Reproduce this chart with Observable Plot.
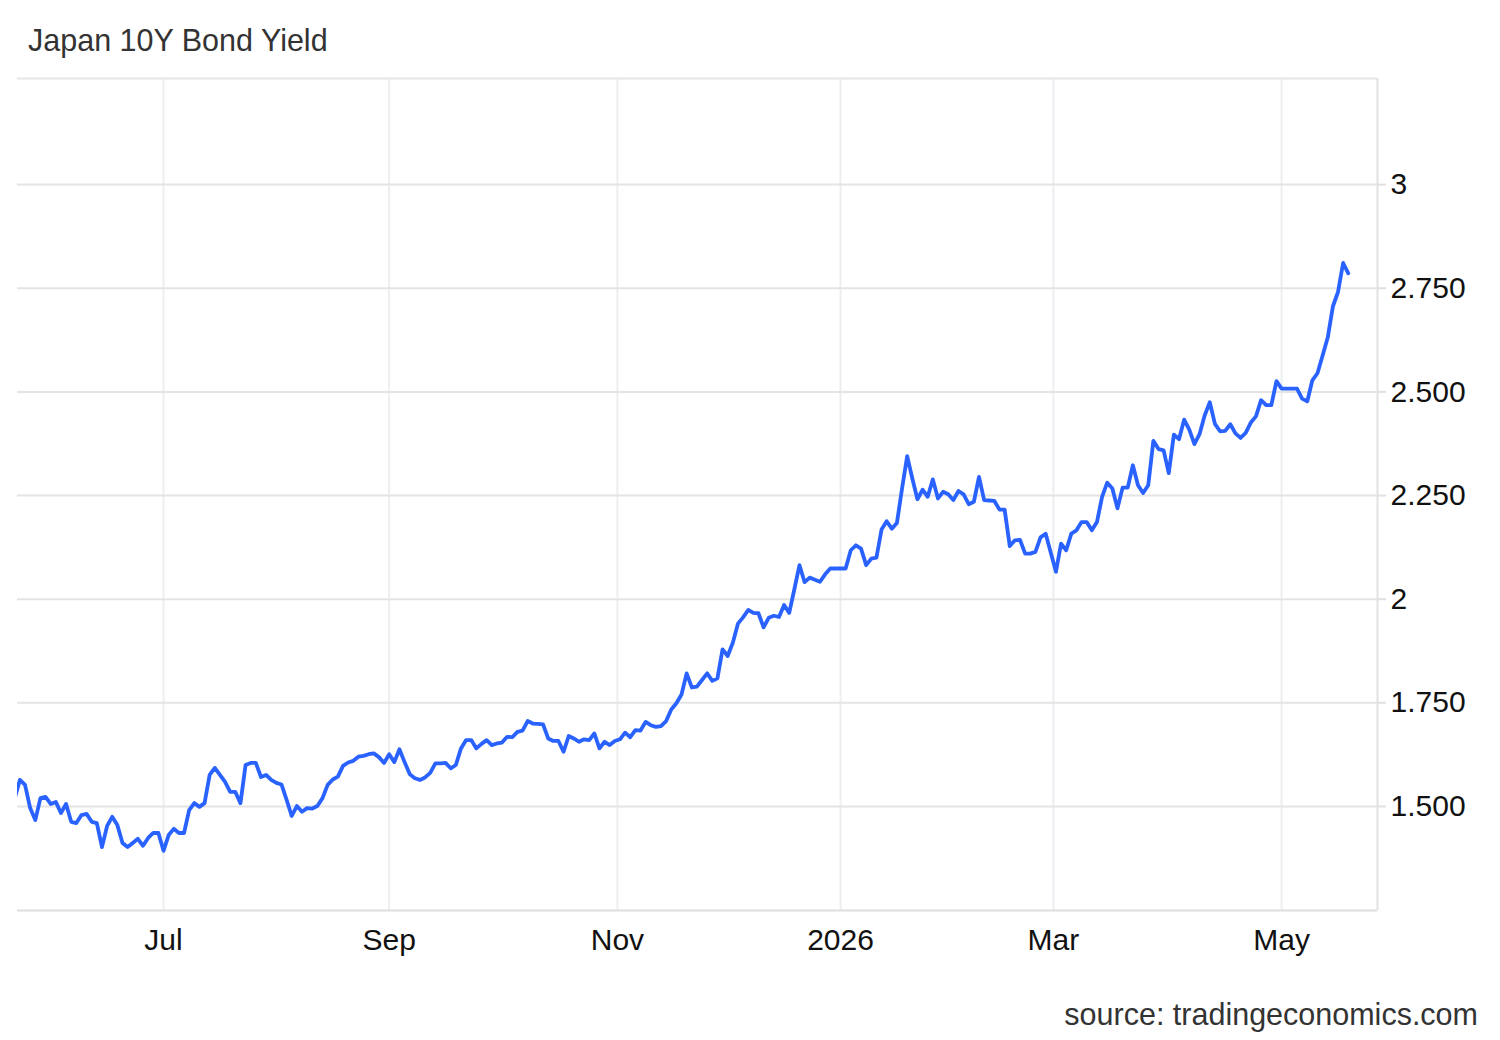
<!DOCTYPE html>
<html><head><meta charset="utf-8">
<script src="https://cdn.jsdelivr.net/npm/d3@7"></script>
<script src="https://cdn.jsdelivr.net/npm/@observablehq/plot@0.6"></script>
<style>
body{margin:0;background:#fff;font-family:"Liberation Sans",Arial,Helvetica,sans-serif;}
#title{height:70px;box-sizing:border-box;padding:24px 0 0 28px;font-size:30.5px;color:#333;line-height:32px;}
#chart{height:900px;}
#source{height:70px;box-sizing:border-box;text-align:right;padding:28px 22px 0 0;font-size:30.5px;color:#333;line-height:32px;}
</style></head><body>
<div id="title">Japan 10Y Bond Yield</div>
<div id="chart"></div>
<div id="source">source: tradingeconomics.com</div>
<script>
// Daily (weekday) closing yields, %, starting on the first trading day below
const firstTradingDay = "2025-05-21";
const yields = [
  1.520,1.564,1.552,1.496,1.467,1.520,1.523,1.506,1.511,1.484,
  1.506,1.463,1.460,1.479,1.482,1.463,1.460,1.402,1.453,1.475,
  1.455,1.412,1.402,1.412,1.422,1.405,1.424,1.436,1.436,1.393,
  1.431,1.446,1.436,1.436,1.491,1.508,1.499,1.508,1.576,1.593,
  1.576,1.559,1.535,1.535,1.508,1.600,1.605,1.605,1.571,1.576,
  1.564,1.557,1.553,1.516,1.477,1.501,1.487,1.496,1.495,1.501,
  1.520,1.552,1.565,1.572,1.598,1.606,1.610,1.620,1.622,1.626,
  1.628,1.619,1.605,1.626,1.607,1.638,1.607,1.578,1.568,1.564,
  1.570,1.581,1.604,1.604,1.605,1.592,1.600,1.640,1.660,1.660,
  1.640,1.651,1.660,1.648,1.652,1.654,1.668,1.667,1.680,1.683,
  1.706,1.700,1.699,1.698,1.664,1.658,1.658,1.632,1.670,1.664,
  1.656,1.662,1.660,1.676,1.640,1.656,1.648,1.658,1.662,1.678,
  1.667,1.684,1.683,1.704,1.696,1.692,1.694,1.706,1.734,1.749,
  1.770,1.821,1.787,1.789,1.805,1.821,1.803,1.809,1.879,1.863,
  1.895,1.941,1.956,1.974,1.967,1.966,1.932,1.955,1.960,1.957,
  1.986,1.967,2.024,2.082,2.041,2.052,2.047,2.042,2.060,2.074,
  2.074,2.074,2.074,2.118,2.130,2.122,2.082,2.098,2.100,2.168,
  2.188,2.170,2.184,2.267,2.345,2.291,2.241,2.264,2.247,2.289,
  2.243,2.259,2.253,2.239,2.261,2.253,2.229,2.235,2.295,2.239,
  2.238,2.237,2.216,2.216,2.128,2.142,2.143,2.110,2.110,2.114,
  2.149,2.158,2.112,2.066,2.134,2.118,2.158,2.166,2.186,2.186,
  2.166,2.186,2.247,2.281,2.267,2.219,2.269,2.269,2.323,2.275,
  2.256,2.275,2.382,2.362,2.359,2.304,2.397,2.386,2.433,2.409,
  2.374,2.398,2.443,2.475,2.423,2.405,2.406,2.422,2.400,2.389,
  2.401,2.426,2.441,2.480,2.468,2.468,2.526,2.508,2.508,2.508,
  2.508,2.484,2.477,2.528,2.545,2.588,2.631,2.706,2.741,2.811,
  2.786
];
// x axis runs on trading (weekday) sessions; domain in sessions counted from the first day
const xDomainSessions = [0.53, 265.7];
const yDomain = [1.249, 3.256];
const xTickDates = ["2025-07-01", "2025-09-01", "2025-11-01", "2026-01-01", "2026-03-01", "2026-05-01"];
const xTickLabels = ["Jul", "Sep", "Nov", "2026", "Mar", "May"];
const yTicks = [1.5, 1.75, 2, 2.25, 2.5, 2.75, 3];
const yTickLabels = ["1.500", "1.750", "2", "2.250", "2.500", "2.750", "3"];

const DAY = 86400000;
const toDate = s => new Date(s + "T00:00:00Z");
const t0 = toDate(firstTradingDay).getTime();
const isWeekend = t => { const w = new Date(t).getUTCDay(); return w === 0 || w === 6; };
// session index of a calendar date (weekend dates sit between Friday and Monday)
function sessionIndex(date) {
  const t = date.getTime();
  let n = 0;
  for (let u = t0; u < t; u += DAY) if (!isWeekend(u)) n++;
  return isWeekend(t) ? n - 0.5 : n;
}
// weekday calendar for the series
const dates = [];
for (let u = t0; dates.length < yields.length; u += DAY) if (!isWeekend(u)) dates.push(new Date(u));
const data = yields.map((v, i) => ({date: dates[i], session: sessionIndex(dates[i]), value: v}));
const xTicks = xTickDates.map(s => sessionIndex(toDate(s)));

const chart = Plot.plot({
  width: 1500,
  height: 900,
  marginLeft: 17,
  marginRight: 123,
  marginTop: 8,
  marginBottom: 60,
  style: {fontFamily: '"Liberation Sans", Arial, Helvetica, sans-serif', background: "#fff", color: "#111", overflow: "visible"},
  x: {type: "linear", domain: xDomainSessions, axis: null},
  y: {domain: yDomain, axis: null},
  marks: [
    Plot.ruleX(xTicks, {stroke: "#eceef2", strokeWidth: 2}),
    Plot.ruleY(yTicks, {stroke: "#e4e4e4", strokeWidth: 2}),
    Plot.ruleY([yDomain[1]], {stroke: "#e6e6e6", strokeWidth: 2}),
    Plot.ruleY([yDomain[0]], {stroke: "#dedede", strokeWidth: 2}),
    Plot.ruleX([xDomainSessions[1]], {stroke: "#e2e2e2", strokeWidth: 2}),
    Plot.axisX({
      ticks: xTicks,
      tickFormat: d => xTickLabels[xTicks.indexOf(d)],
      tickSize: 0, tickPadding: 18, fontSize: 30, fill: "#111", label: null
    }),
    Plot.axisY({
      anchor: "right",
      ticks: yTicks,
      tickFormat: d => yTickLabels[yTicks.indexOf(d)],
      tickSize: 8, tickPadding: 5, fontSize: 30, stroke: "#e0e0e0", strokeWidth: 2, fill: "#111", label: null
    }),
    Plot.line(data, {x: "session", y: "value", stroke: "#2962ff", strokeWidth: 3.8, strokeLinejoin: "round", strokeLinecap: "round", clip: true})
  ]
});
document.getElementById("chart").appendChild(chart);
</script>
</body></html>
